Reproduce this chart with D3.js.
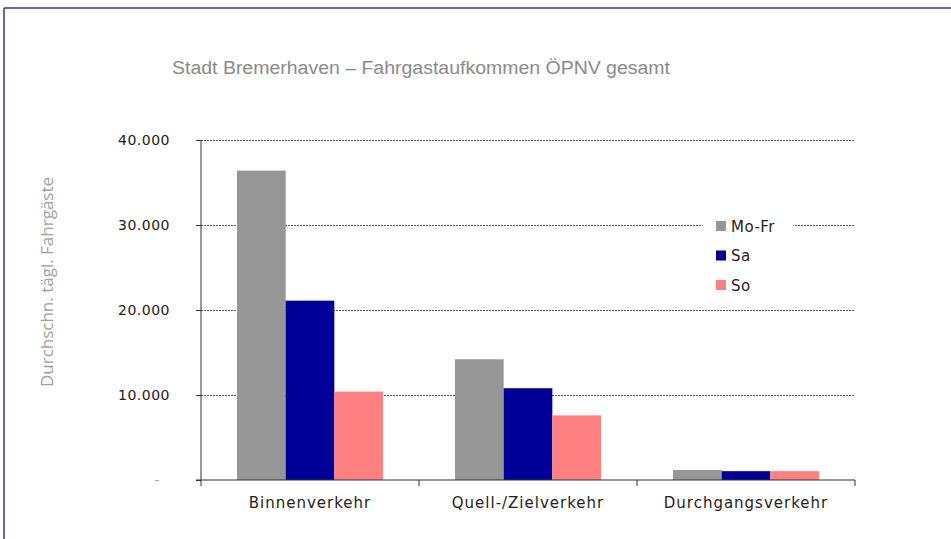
<!DOCTYPE html>
<html>
<head>
<meta charset="utf-8">
<script src="https://cdn.jsdelivr.net/npm/d3@7"></script>
<style>
  body { margin: 0; background: #fff; }
  svg text { font-family: "DejaVu Sans", Verdana, sans-serif; }
</style>
</head>
<body>
<svg id="chart" width="951" height="539"></svg>
<script>
// Data
const categories = ["Binnenverkehr", "Quell-/Zielverkehr", "Durchgangsverkehr"];
const seriesNames = ["Mo-Fr", "Sa", "So"];
const moFr = [36400, 14200, 1180];
const sa = [21100, 10800, 1040];
const so = [10400, 7600, 1040];
const yTicks = [0, 10000, 20000, 30000, 40000];
const colors = ["#969696", "#000099", "#ff8080"];

const seriesValues = [moFr, sa, so];

const svg = d3.select("#chart");

// Frame lines (blue border at top and left)
svg.append("line").attr("x1", 4).attr("x2", 951).attr("y1", 8).attr("y2", 8)
  .attr("stroke", "#3333aa").attr("stroke-width", 1.5);
svg.append("line").attr("x1", 4).attr("x2", 4).attr("y1", 8).attr("y2", 539)
  .attr("stroke", "#3333aa").attr("stroke-width", 1.5);

// Plot area
const margin = { top: 140, left: 201, right: 96, bottom: 59 };
const width = 951 - margin.left - margin.right;
const height = 539 - margin.top - margin.bottom;

const g = svg.append("g").attr("transform", `translate(${margin.left},${margin.top})`);

const x0 = d3.scaleBand().domain(categories).range([0, width]).paddingInner(0).paddingOuter(0);
const x1 = d3.scaleBand().domain(seriesNames).range([36, x0.bandwidth() - 36]).padding(0);
const y = d3.scaleLinear().domain([0, 40000]).range([height, 0]);

// Gridlines
g.append("g").selectAll("line")
  .data(yTicks.filter(d => d > 0))
  .enter().append("line")
  .attr("x1", 0).attr("x2", width)
  .attr("y1", d => y(d) + 0.5).attr("y2", d => y(d) + 0.5)
  .attr("stroke", "#555").attr("stroke-dasharray", "2,1").attr("stroke-width", 1);

// Bars
categories.forEach((cat, ci) => {
  g.append("g").selectAll("rect")
    .data(seriesNames.map((s, si) => ({ s, v: seriesValues[si][ci], c: colors[si] })))
    .enter().append("rect")
    .attr("x", d => x0(cat) + x1(d.s))
    .attr("y", d => y(d.v))
    .attr("width", x1.bandwidth())
    .attr("height", d => y(0) - y(d.v))
    .attr("fill", d => d.c);
});

// Y axis
const yAxis = g.append("g")
  .call(d3.axisLeft(y).tickValues(yTicks).tickSize(5).tickPadding(26)
    .tickFormat(d => d === 0 ? "-" : d3.format(",")(d).replace(/,/g, ".")));
yAxis.select(".domain").attr("d", `M0,0V${height + 6}`).attr("stroke", "#333");
yAxis.selectAll(".tick line").attr("stroke", "#333");
yAxis.selectAll("text").attr("font-size", 14).attr("fill", d => d === 0 ? "#aaa" : "#222")
  .attr("letter-spacing", "0.5px")
  .attr("dx", d => d === 0 ? -10 : 0);

// X axis
const xAxis = g.append("g").attr("transform", `translate(0,${height})`)
  .call(d3.axisBottom(x0).tickSize(0).tickPadding(17));
xAxis.select(".domain").attr("d", `M-5,0H${width}`).attr("stroke", "#333");
xAxis.selectAll("text").attr("font-size", 15).attr("fill", "#222")
  .attr("letter-spacing", "1px");
// category separator ticks
xAxis.append("g").selectAll("line")
  .data(categories)
  .enter().append("line")
  .attr("x1", d => x0(d) + x0.bandwidth()).attr("x2", d => x0(d) + x0.bandwidth())
  .attr("y1", 0).attr("y2", 6).attr("stroke", "#333");

// Legend
const legend = svg.append("g").attr("transform", "translate(703,212)");
legend.append("rect").attr("x", 0).attr("y", 0).attr("width", 90).attr("height", 88).attr("fill", "#fff");
seriesNames.forEach((s, i) => {
  const row = legend.append("g").attr("transform", `translate(13,${14 + i * 29.5})`);
  row.append("rect").attr("x", 0).attr("y", -5).attr("width", 10).attr("height", 10).attr("fill", colors[i]);
  row.append("text").attr("x", 15).attr("y", 5.5).attr("font-size", 15).attr("fill", "#222")
    .attr("letter-spacing", "0.5px").text(s);
});

// Title
svg.append("text")
  .attr("x", 172).attr("y", 74)
  .attr("font-size", 18).attr("fill", "#8a8a8a")
  .style("font-family", "'Liberation Sans Narrow', 'Liberation Sans', sans-serif")
  .attr("textLength", 498).attr("lengthAdjust", "spacingAndGlyphs")
  .text("Stadt Bremerhaven – Fahrgastaufkommen ÖPNV gesamt");

// Y axis title
svg.append("text")
  .attr("transform", "translate(53,282) rotate(-90)")
  .attr("text-anchor", "middle")
  .attr("font-size", 17).attr("fill", "#a0a0a0")
  .style("font-family", "'Open Sans', sans-serif")
  .text("Durchschn. tägl. Fahrgäste");
</script>
</body>
</html>
